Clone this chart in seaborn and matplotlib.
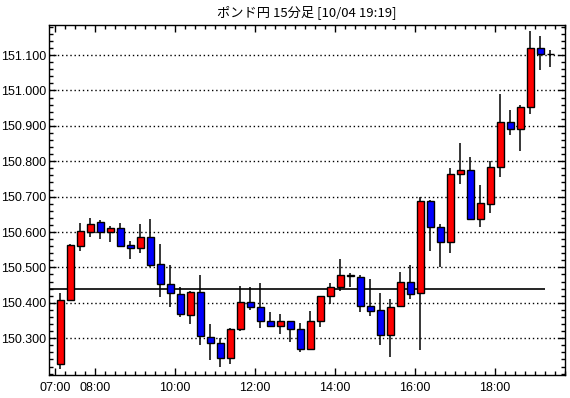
import numpy as np
import pandas as pd
import matplotlib
matplotlib.use("Agg")
import matplotlib.pyplot as plt
import seaborn as sns
from matplotlib.ticker import FixedLocator, MultipleLocator, FormatStrFormatter

title = "ポンド円 15分足 [10/04 19:19]"
tick_pos = [0, 4, 12, 20, 28, 36, 44]
tick_labels = ["07:00", "08:00", "10:00", "12:00", "14:00", "16:00", "18:00"]
y_ticks = [150.3, 150.4, 150.5, 150.6, 150.7, 150.8, 150.9, 151.0, 151.1]

opens = [150.227, 150.407, 150.561, 150.601, 150.628, 150.601, 150.611, 150.563, 150.556, 150.585,
         150.509, 150.453, 150.424, 150.365, 150.430, 150.303, 150.286, 150.244, 150.325, 150.402,
         150.388, 150.348, 150.334, 150.348, 150.325, 150.269, 150.348, 150.419, 150.444, 150.478,
         150.474, 150.390, 150.379, 150.308, 150.390, 150.458, 150.427, 150.687, 150.613, 150.571,
         150.763, 150.774, 150.636, 150.678, 150.784, 150.910, 150.890, 150.952, 151.119, 151.102]
highs = [150.427, 150.565, 150.626, 150.641, 150.634, 150.617, 150.626, 150.575, 150.624, 150.637,
         150.566, 150.506, 150.444, 150.433, 150.478, 150.340, 150.300, 150.329, 150.448, 150.444,
         150.456, 150.373, 150.368, 150.348, 150.342, 150.377, 150.419, 150.456, 150.524, 150.484,
         150.478, 150.467, 150.428, 150.412, 150.487, 150.507, 150.700, 150.690, 150.623, 150.782,
         150.852, 150.813, 150.734, 150.800, 150.990, 150.945, 150.959, 151.167, 151.154, 151.114]
lows = [150.214, 150.405, 150.545, 150.587, 150.581, 150.573, 150.559, 150.525, 150.542, 150.500,
        150.417, 150.389, 150.361, 150.340, 150.282, 150.237, 150.220, 150.228, 150.321, 150.381,
        150.330, 150.334, 150.313, 150.290, 150.262, 150.269, 150.333, 150.396, 150.434, 150.446,
        150.375, 150.364, 150.282, 150.248, 150.388, 150.410, 150.268, 150.547, 150.500, 150.540,
        150.735, 150.636, 150.613, 150.655, 150.756, 150.875, 150.830, 150.934, 151.059, 151.067]
closes = [150.408, 150.563, 150.603, 150.623, 150.601, 150.611, 150.561, 150.556, 150.585, 150.508,
          150.453, 150.427, 150.368, 150.430, 150.306, 150.286, 150.244, 150.325, 150.402, 150.388,
          150.348, 150.334, 150.348, 150.325, 150.269, 150.348, 150.419, 150.444, 150.478, 150.476,
          150.390, 150.376, 150.308, 150.388, 150.458, 150.424, 150.687, 150.613, 150.571, 150.763,
          150.774, 150.636, 150.682, 150.784, 150.910, 150.890, 150.952, 151.119, 151.102, 151.102]
ref_level = 150.439

df = pd.DataFrame({"open": opens, "high": highs, "low": lows, "close": closes})
df["pos"] = np.arange(len(df)) + 0.5
df["bottom"] = df[["open", "close"]].min(axis=1)
df["height"] = (df["close"] - df["open"]).abs()
df["color"] = np.where(df["close"] >= df["open"], "#ff0000", "#0000ff")

sns.set_theme(style="white")
plt.rcParams["font.family"] = ["Liberation Sans", "DejaVu Sans"]

fig = plt.figure(figsize=(5.70, 3.98), dpi=100)
ax = fig.add_axes([49 / 570, 23 / 398, 516 / 570, 350 / 398])

ax.set_xlim(-0.6, 51.0)
ax.set_ylim(150.196, 151.185)

for v in y_ticks:
    ax.axhline(v, color="black", lw=1.0, linestyle=(0, (1, 2)), zorder=1)

ax.hlines(ref_level, -0.6, 49.0, color="black", lw=1.2, zorder=2)

ax.vlines(df["pos"], df["low"], df["high"], color="black", lw=1.1, zorder=3)
ax.bar(df["pos"], df["height"], bottom=df["bottom"], width=0.7,
       color=df["color"], edgecolor="black", linewidth=1.0, zorder=4)

ax.xaxis.set_major_locator(FixedLocator(tick_pos))
ax.set_xticklabels(tick_labels)
ax.xaxis.set_minor_locator(MultipleLocator(1))
ax.yaxis.set_major_locator(FixedLocator(y_ticks))
ax.yaxis.set_major_formatter(FormatStrFormatter("%.3f"))
ax.yaxis.set_minor_locator(MultipleLocator(0.02))

ax.tick_params(which="both", direction="in", top=True, right=True, bottom=True, left=True,
               color="black", width=1.0, labelsize=9, labelcolor="black")
ax.tick_params(which="major", length=5)
ax.tick_params(which="minor", length=3)
ax.tick_params(axis="y", which="major", pad=2)
ax.tick_params(axis="x", which="major", pad=5)

for s in ax.spines.values():
    s.set_color("black")
    s.set_linewidth(1.0)
    s.set_visible(True)

fig.text(307 / 570, 1 - 12 / 398, title, ha="center", va="center", fontsize=9.5,
         family=["Noto Sans CJK JP", "DejaVu Sans"], color="black")

fig.savefig("out.png", dpi=100, facecolor="white")
